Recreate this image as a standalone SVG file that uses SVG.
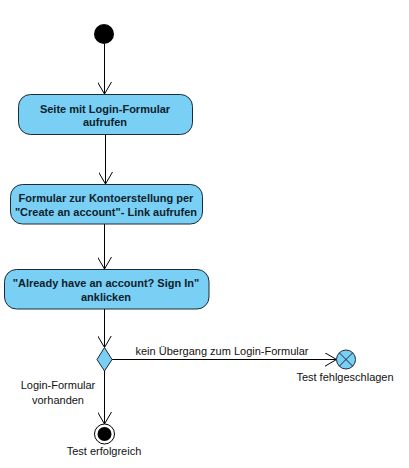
<svg xmlns="http://www.w3.org/2000/svg" width="409" height="468" viewBox="0 0 409 468">
<style>
.act{fill:#7ACFF5;stroke:#1a2a36;stroke-width:1}
.bt{font-family:"Liberation Sans",Arial,sans-serif;font-size:11px;font-weight:bold;fill:#0d1e2b;text-anchor:middle}
.lt{font-family:"Liberation Sans",Arial,sans-serif;font-size:11px;fill:#111;text-anchor:middle}
.fl{stroke:#000;stroke-width:1;fill:none}
</style>
<defs>
<marker id="arr" viewBox="0 0 12 14" refX="12" refY="7" markerWidth="12" markerHeight="14" markerUnits="userSpaceOnUse" orient="auto">
<path d="M0,0 L12,7 L0,14" fill="none" stroke="#000" stroke-width="1"/>
</marker>
</defs>
<rect width="409" height="468" fill="#fff"/>
<g id="connectors">
<line class="fl" x1="104.5" y1="44" x2="104.5" y2="94" marker-end="url(#arr)"/>
<line class="fl" x1="105.5" y1="135" x2="105.5" y2="184" marker-end="url(#arr)"/>
<line class="fl" x1="104.5" y1="224" x2="104.5" y2="269" marker-end="url(#arr)"/>
<line class="fl" x1="104.5" y1="309" x2="104.5" y2="347.5" marker-end="url(#arr)"/>
<line class="fl" x1="112" y1="359.5" x2="336.5" y2="359.5" marker-end="url(#arr)"/>
<line class="fl" x1="104.5" y1="371" x2="104.5" y2="424" marker-end="url(#arr)"/>
<text class="lt" x="222" y="354.5">kein Übergang zum Login-Formular</text>
<text class="lt" x="58" y="389">Login-Formular</text>
<text class="lt" x="58" y="404">vorhanden</text>
</g>
<g id="start">
<circle cx="104" cy="34" r="10" fill="#000"/>
</g>
<g id="a1">
<rect class="act" x="18.5" y="94.5" width="174" height="40" rx="12"/>
<text class="bt" x="105" y="112.5">Seite mit Login-Formular</text>
<text class="bt" x="105" y="126">aufrufen</text>
</g>
<g id="a2">
<rect class="act" x="10.5" y="184.5" width="192" height="39.5" rx="12"/>
<text class="bt" x="106" y="201.5">Formular zur Kontoerstellung per</text>
<text class="bt" x="106" y="216">"Create an account"- Link aufrufen</text>
</g>
<g id="a3">
<rect class="act" x="4.5" y="269.5" width="204.5" height="39.5" rx="12"/>
<text class="bt" x="106" y="286.5">"Already have an account? Sign In"</text>
<text class="bt" x="106" y="300.5">anklicken</text>
</g>
<g id="decision">
<polygon class="act" points="104.5,347.5 112,359.5 104.5,371 97,359.5"/>
</g>
<g id="flowfinal">
<circle class="act" cx="346" cy="359.5" r="9.5"/>
<line x1="339.3" y1="352.8" x2="352.7" y2="366.2" stroke="#1a2a36" stroke-width="1"/>
<line x1="352.7" y1="352.8" x2="339.3" y2="366.2" stroke="#1a2a36" stroke-width="1"/>
<text class="lt" x="345" y="381">Test fehlgeschlagen</text>
</g>
<g id="final">
<circle cx="104.5" cy="434" r="10" fill="#fff" stroke="#000" stroke-width="1"/>
<circle cx="104.5" cy="434" r="7" fill="#000"/>
<text class="lt" x="104" y="454.5">Test erfolgreich</text>
</g>
</svg>
